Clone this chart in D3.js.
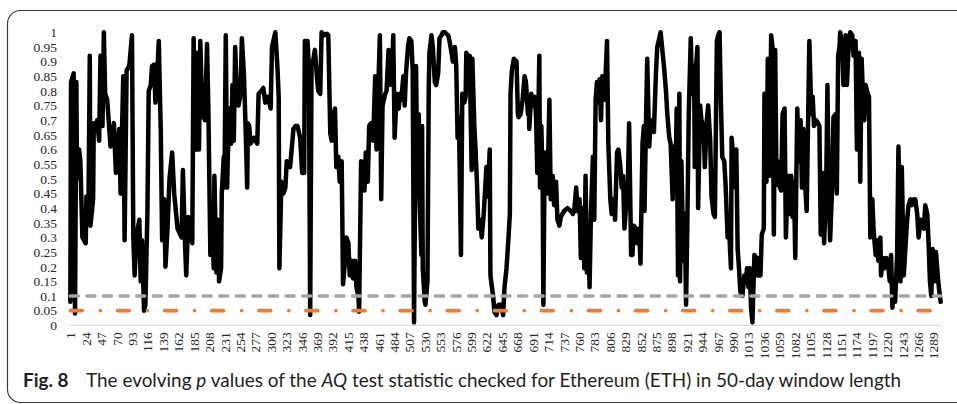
<!DOCTYPE html>
<html>
<head>
<meta charset="utf-8">
<script src="https://cdn.jsdelivr.net/npm/d3@7"></script>
<style>
  body { margin: 0; background: #fff; }
  svg { display: block; }
</style>
</head>
<body>
<svg id="chart" width="957" height="404"></svg>
<script>
// dia de la ventana (1..1300) y p valor
const days = [
  1, 2, 6, 8, 10, 11, 14, 16, 19, 24, 25, 28, 30, 31, 35, 36, 39, 41, 44, 46, 49, 51, 53, 56, 61, 66, 69, 71, 74, 76,
  80, 82, 85, 89, 93, 95, 97, 100, 104, 106, 108, 111, 113, 116, 118, 121, 123, 126, 128, 131, 133, 136, 138, 141, 143, 146, 149, 153, 156, 161,
  165, 167, 169, 172, 174, 177, 180, 183, 185, 188, 190, 193, 195, 198, 200, 202, 205, 207, 210, 212, 215, 216, 219, 221, 223, 226, 227, 230, 231, 233,
  235, 236, 239, 241, 243, 245, 247, 250, 252, 255, 257, 260, 262, 265, 266, 268, 270, 275, 280, 282, 286, 289, 292, 296, 300, 302, 304, 307, 310, 312,
  313, 316, 319, 322, 324, 329, 334, 337, 340, 344, 347, 350, 351, 355, 357, 359, 361, 364, 366, 369, 371, 374, 376, 380, 384, 386, 389, 391, 394, 396,
  398, 401, 403, 406, 408, 411, 413, 416, 418, 421, 423, 426, 428, 431, 432, 435, 437, 440, 442, 445, 447, 450, 453, 456, 458, 461, 463, 465, 467, 471,
  473, 476, 478, 481, 483, 485, 488, 491, 493, 495, 498, 500, 502, 505, 507, 510, 512, 514, 517, 519, 521, 522, 525, 526, 527, 530, 531, 534, 536, 537,
  540, 542, 545, 547, 550, 552, 555, 557, 560, 562, 565, 567, 570, 572, 575, 577, 579, 581, 584, 586, 589, 591, 592, 595, 597, 600, 601, 604, 606, 608,
  610, 613, 615, 618, 622, 624, 627, 628, 632, 634, 637, 640, 642, 644, 647, 649, 652, 655, 657, 658, 660, 663, 667, 669, 670, 673, 676, 679, 681, 684,
  685, 686, 689, 691, 694, 696, 698, 701, 702, 704, 706, 707, 709, 711, 713, 716, 718, 721, 723, 726, 728, 731, 733, 738, 743, 748, 751, 753, 756, 758,
  761, 763, 766, 768, 770, 772, 774, 776, 778, 781, 783, 785, 787, 789, 791, 793, 795, 798, 800, 802, 804, 807, 809, 812, 814, 817, 819, 822, 824, 826,
  828, 830, 833, 835, 838, 840, 842, 845, 847, 850, 852, 855, 857, 858, 860, 862, 865, 867, 870, 872, 875, 877, 880, 882, 885, 887, 890, 892, 895, 897,
  900, 902, 904, 906, 908, 910, 911, 913, 916, 918, 920, 922, 924, 927, 929, 932, 933, 935, 937, 938, 941, 943, 946, 948, 951, 953, 956, 958, 961, 963,
  966, 968, 970, 972, 974, 977, 979, 982, 984, 987, 988, 991, 993, 995, 997, 999, 1001, 1004, 1007, 1009, 1011, 1013, 1015, 1017, 1019, 1022, 1025, 1027, 1029, 1031,
  1033, 1036, 1037, 1040, 1042, 1044, 1046, 1047, 1049, 1051, 1053, 1055, 1057, 1060, 1062, 1064, 1067, 1069, 1072, 1075, 1077, 1079, 1081, 1083, 1086, 1088, 1091, 1093, 1095, 1097,
  1100, 1102, 1104, 1107, 1109, 1111, 1114, 1117, 1119, 1121, 1124, 1126, 1129, 1131, 1133, 1135, 1138, 1140, 1143, 1145, 1147, 1149, 1150, 1153, 1155, 1158, 1160, 1163, 1165, 1168,
  1170, 1173, 1175, 1178, 1180, 1182, 1184, 1186, 1188, 1190, 1193, 1195, 1198, 1200, 1203, 1205, 1207, 1210, 1211, 1214, 1216, 1219, 1221, 1224, 1226, 1228, 1230, 1232, 1235, 1237,
  1240, 1242, 1245, 1247, 1250, 1252, 1255, 1257, 1260, 1262, 1265, 1267, 1270, 1272, 1275, 1277, 1280, 1282, 1284, 1286, 1288, 1291, 1293, 1296, 1298, 1300
];
const pValues = [
  0.08, 0.83, 0.86, 0.04, 0.83, 0.5, 0.6, 0.56, 0.3, 0.28, 0.44, 0.38, 0.92, 0.34, 0.43, 0.69, 0.68, 0.70, 0.63, 0.92, 0.68, 1.0, 0.79, 0.77, 0.61, 0.69, 0.52, 0.60, 0.67, 0.45,
  0.85, 0.29, 0.87, 0.885, 0.99, 0.30, 0.17, 0.31, 0.36, 0.15, 0.29, 0.05, 0.07, 0.38, 0.80, 0.82, 0.885, 0.89, 0.76, 0.87, 0.97, 0.66, 0.29, 0.43, 0.20, 0.33, 0.5, 0.59, 0.45, 0.33,
  0.31, 0.30, 0.53, 0.29, 0.17, 0.37, 0.31, 0.28, 0.98, 0.60, 0.93, 0.60, 0.97, 0.71, 0.72, 0.70, 0.96, 0.74, 0.24, 0.38, 0.195, 0.51, 0.18, 0.36, 0.15, 0.195, 0.45, 0.575, 0.47, 0.99,
  0.47, 0.575, 0.74, 0.62, 0.82, 0.63, 0.95, 0.76, 0.75, 0.79, 0.98, 0.86, 0.72, 0.47, 0.69, 0.68, 0.62, 0.64, 0.62, 0.79, 0.80, 0.81, 0.76, 0.78, 0.74, 0.95, 0.97, 1.0, 0.885, 0.78,
  0.195, 0.49, 0.45, 0.47, 0.56, 0.54, 0.67, 0.68, 0.68, 0.64, 0.52, 0.52, 0.97, 0.97, 0.885, 0.035, 0.885, 0.91, 0.94, 0.85, 0.80, 0.79, 1.0, 0.99, 0.995, 0.99, 0.655, 0.63, 0.72, 0.74,
  0.54, 0.575, 0.49, 0.56, 0.14, 0.22, 0.30, 0.28, 0.17, 0.22, 0.16, 0.22, 0.13, 0.10, 0.046, 0.56, 0.48, 0.46, 0.59, 0.49, 0.68, 0.69, 0.63, 0.85, 0.60, 0.84, 0.99, 0.43, 0.75, 0.79,
  0.80, 0.94, 0.82, 0.85, 0.99, 0.64, 0.79, 0.74, 0.79, 0.77, 0.85, 0.75, 0.86, 0.95, 0.98, 0.97, 0.87, 0.01, 0.885, 0.46, 0.72, 0.45, 0.24, 0.68, 0.195, 0.08, 0.07, 0.15, 0.82, 0.93,
  0.99, 0.95, 0.83, 0.82, 0.86, 0.98, 0.99, 1.0, 1.0, 0.995, 0.99, 0.97, 0.93, 0.90, 0.95, 0.885, 0.64, 0.71, 0.24, 0.79, 0.76, 0.78, 0.93, 0.91, 0.92, 0.53, 0.91, 0.68, 0.59, 0.48,
  0.33, 0.36, 0.30, 0.38, 0.54, 0.44, 0.60, 0.17, 0.10, 0.046, 0.035, 0.07, 0.07, 0.07, 0.035, 0.13, 0.195, 0.30, 0.38, 0.79, 0.87, 0.91, 0.90, 0.72, 0.71, 0.72, 0.77, 0.85, 0.83, 0.72,
  0.77, 0.67, 0.79, 0.75, 0.78, 0.72, 0.52, 0.92, 0.47, 0.68, 0.47, 0.07, 0.59, 0.47, 0.45, 0.77, 0.43, 0.51, 0.41, 0.49, 0.36, 0.34, 0.37, 0.39, 0.40, 0.39, 0.38, 0.39, 0.47, 0.39,
  0.43, 0.23, 0.40, 0.195, 0.51, 0.18, 0.33, 0.13, 0.38, 0.575, 0.36, 0.77, 0.83, 0.76, 0.84, 0.70, 0.85, 0.77, 0.86, 0.97, 0.62, 0.43, 0.38, 0.43, 0.36, 0.59, 0.60, 0.54, 0.47, 0.51,
  0.33, 0.39, 0.47, 0.69, 0.24, 0.24, 0.34, 0.33, 0.28, 0.33, 0.21, 0.62, 0.68, 0.39, 0.67, 0.91, 0.61, 0.69, 0.70, 0.66, 0.86, 0.95, 0.98, 1.0, 0.93, 0.885, 0.80, 0.72, 0.64, 0.62,
  0.43, 0.61, 0.47, 0.74, 0.17, 0.79, 0.15, 0.56, 0.22, 0.38, 0.07, 0.36, 0.72, 0.98, 0.79, 0.885, 0.54, 0.885, 0.95, 0.40, 0.75, 0.70, 0.68, 0.54, 0.70, 0.75, 0.63, 0.44, 0.38, 0.37,
  0.97, 0.99, 1.0, 0.76, 0.575, 0.56, 0.48, 0.30, 0.34, 0.195, 0.64, 0.56, 0.47, 0.60, 0.26, 0.195, 0.115, 0.10, 0.17, 0.15, 0.195, 0.13, 0.195, 0.06, 0.01, 0.24, 0.23, 0.17, 0.23, 0.17,
  0.31, 0.33, 0.79, 0.49, 0.91, 0.51, 0.79, 0.99, 0.95, 0.31, 0.94, 0.48, 0.56, 0.47, 0.46, 0.72, 0.74, 0.30, 0.51, 0.38, 0.51, 0.37, 0.49, 0.23, 0.74, 0.56, 0.70, 0.47, 0.67, 0.51,
  0.39, 0.68, 0.97, 0.72, 0.78, 0.68, 0.70, 0.69, 0.68, 0.31, 0.52, 0.28, 0.45, 0.82, 0.45, 0.29, 0.47, 0.71, 0.72, 0.45, 0.92, 0.95, 1.0, 0.95, 0.82, 0.99, 0.82, 0.97, 1.0, 0.99,
  0.92, 0.97, 0.60, 0.93, 0.49, 0.91, 0.79, 0.70, 0.82, 0.80, 0.78, 0.30, 0.43, 0.32, 0.24, 0.29, 0.22, 0.30, 0.17, 0.23, 0.195, 0.23, 0.22, 0.15, 0.24, 0.06, 0.13, 0.08, 0.24, 0.61,
  0.15, 0.54, 0.17, 0.25, 0.36, 0.41, 0.43, 0.41, 0.43, 0.43, 0.38, 0.30, 0.36, 0.34, 0.33, 0.41, 0.38, 0.28, 0.15, 0.10, 0.26, 0.15, 0.25, 0.16, 0.115, 0.08
];
const nDays = 1300;

// etiquetas del eje x (cada 23 dias) y del eje y
const xTickLabels = [1, 24, 47, 70, 93, 116, 139, 162, 185, 208, 231, 254, 277, 300, 323, 346, 369, 392, 415, 438,
  461, 484, 507, 530, 553, 576, 599, 622, 645, 668, 691, 714, 737, 760, 783, 806, 829, 852, 875, 898,
  921, 944, 967, 990, 1013, 1036, 1059, 1082, 1105, 1128, 1151, 1174, 1197, 1220, 1243, 1266, 1289];
const yTickValues = [0, 0.05, 0.1, 0.15, 0.2, 0.25, 0.3, 0.35, 0.4, 0.45, 0.5, 0.55, 0.6, 0.65, 0.7, 0.75, 0.8, 0.85, 0.9, 0.95, 1];

// lineas de referencia (10% y 5%)
const thresholdLevels = [0.1, 0.05];
const thresholdColors = ["#a5a5a5", "#ed7d31"];
const thresholdDashes = ["8,8.6", "12,18,0.1,17"];

const svg = d3.select("#chart");

// marco redondeado de la figura
svg.append("rect")
  .attr("x", 7.5).attr("y", 10.5)
  .attr("width", 980).attr("height", 392)
  .attr("rx", 13).attr("ry", 13)
  .attr("fill", "none")
  .attr("stroke", "#3a3a3a")
  .attr("stroke-width", 1.2);

const x = d3.scaleLinear().domain([0.5, nDays + 0.5]).range([70, 941]);
const y = d3.scaleLinear().domain([0, 1]).range([325.3, 32.3]);

// eje y: solo etiquetas
const yAxis = svg.append("g")
  .attr("transform", "translate(70,0)")
  .call(d3.axisLeft(y).tickValues(yTickValues).tickSize(0).tickPadding(13)
    .tickFormat(d => String(+d.toFixed(2))));
yAxis.select(".domain").remove();
yAxis.selectAll("text")
  .attr("font-family", "'Liberation Serif', 'Times New Roman', serif")
  .attr("font-size", 13.5)
  .attr("fill", "#262626");

// eje x: linea gris clara y etiquetas giradas
svg.append("line")
  .attr("x1", 70).attr("x2", 941)
  .attr("y1", y(0)).attr("y2", y(0))
  .attr("stroke", "#d9d9d9")
  .attr("stroke-width", 1.3);

const xAxis = svg.append("g")
  .attr("transform", `translate(0,${y(0)})`)
  .call(d3.axisBottom(x).tickValues(xTickLabels).tickSize(0).tickFormat(d => d));
xAxis.select(".domain").remove();
xAxis.selectAll("text")
  .attr("font-family", "'Liberation Serif', 'Times New Roman', serif")
  .attr("font-size", 13.5)
  .attr("fill", "#262626")
  .attr("transform", "rotate(-90)")
  .attr("text-anchor", "end")
  .attr("x", -7)
  .attr("y", 0)
  .attr("dy", "0.34em");

// serie de p valores
const series = days.map((d, i) => ({ day: d, p: pValues[i] }));
const line = d3.line().x(d => x(d.day)).y(d => y(d.p));

svg.append("path")
  .datum(series)
  .attr("d", line)
  .attr("fill", "none")
  .attr("stroke", "#000")
  .attr("stroke-width", 4.5)
  .attr("stroke-linejoin", "round")
  .attr("stroke-linecap", "round");

// lineas horizontales de significancia
thresholdLevels.forEach((level, i) => {
  svg.append("path")
    .datum([{ day: 1, p: level }, { day: nDays, p: level }])
    .attr("d", line)
    .attr("fill", "none")
    .attr("stroke", thresholdColors[i])
    .attr("stroke-width", 3.6)
    .attr("stroke-linecap", "round")
    .attr("stroke-dasharray", thresholdDashes[i]);
});

// pie de figura
const caption = svg.append("text")
  .attr("y", 387)
  .attr("font-family", "Lato, 'Open Sans', sans-serif")
  .attr("font-size", 16)
  .attr("fill", "#231f20");

caption.append("tspan")
  .attr("x", 23)
  .attr("font-weight", "bold")
  .text("Fig. 8");

const captionParts = [
  ["The evolving ", "normal"], ["p", "italic"], [" values of the ", "normal"], ["AQ", "italic"],
  [" test statistic checked for Ethereum (ETH) in 50-day window length", "normal"]
];
captionParts.forEach((part, i) => {
  const t = caption.append("tspan").attr("font-style", part[1]).text(part[0]);
  if (i === 0) t.attr("x", 86);
});

// ajustar el tamaño de letra al ancho del original
const captionWidth = caption.node().getBBox().width;
const fitted = 16 * (913 - 23) / captionWidth;
caption.attr("font-size", fitted.toFixed(2));
</script>
</body>
</html>
